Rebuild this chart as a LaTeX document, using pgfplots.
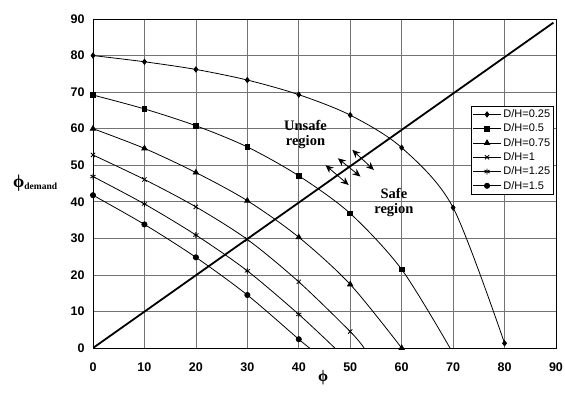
\documentclass[border=0pt]{standalone}
\usepackage{fontspec}
\setmainfont{Liberation Serif}
\setsansfont{Liberation Sans}
\usepackage{pgfplots}
\pgfplotsset{compat=1.18}
\usetikzlibrary{arrows.meta}
\begin{document}
\begin{tikzpicture}
\useasboundingbox (0,0) rectangle (565pt,394pt);
\begin{axis}[
  at={(93pt,46pt)}, anchor=south west,
  scale only axis, width=463pt, height=329pt,
  xmin=0, xmax=90, ymin=0, ymax=90,
  xtick={0,10,...,90}, ytick={0,10,...,90},
  major tick length=0pt,
  grid=major, grid style={black!55, line width=0.7pt},
  axis line style={line width=0.9pt},
  /pgf/number format/assume math mode=true,
  tick label style={font=\sffamily\bfseries\fontsize{12.5}{13}\selectfont},
  xticklabel style={yshift=-11pt},
  yticklabel style={xshift=-5pt},
  every axis plot/.append style={black, line width=0.8pt, smooth, mark size=2.6pt, mark options={solid, fill=black}},
  legend style={at={(rel axis cs:0.816,0.736)}, anchor=north west,
    font=\sffamily\fontsize{11}{11}\selectfont, draw=black, line width=0.7pt,
    inner sep=1.5pt, row sep=0.8pt, fill=white},
  legend cell align=left,
  legend image code/.code={\draw[mark indices={2}] plot coordinates {(0pt,0pt) (14pt,0pt) (28pt,0pt)};},
  clip mode=individual,
]
\addplot[mark=diamond*] coordinates {(0,80)(10,78.3)(20,76.2)(30,73.3)(40,69.3)(50,63.7)(60,54.8)(70,38.4)(80,1.3)};
\addlegendentry{D/H=0.25}
\addplot[mark=square*, mark size=2.4pt, mark indices={1,2,3,4,5,6,7}] coordinates {(0,69.2)(10,65.4)(20,60.8)(30,55.0)(40,47.1)(50,36.8)(60,21.5)(69.4,0)};
\addlegendentry{D/H=0.5}
\addplot[mark=triangle*, mark size=3pt] coordinates {(0,60)(10,54.6)(20,48.0)(30,40.3)(40,30.3)(50,17.4)(60,0)};
\addlegendentry{D/H=0.75}
\addplot[mark=x, mark size=3pt, mark indices={1,2,3,4,5,6}] coordinates {(0,52.8)(10,46.1)(20,38.6)(30,29.7)(40,18.1)(50,4.5)(52.7,0)};
\addlegendentry{D/H=1}
\addplot[mark=asterisk, mark size=3pt, mark indices={1,2,3,4,5}] coordinates {(0,46.9)(10,39.4)(20,30.9)(30,21.1)(40,9.2)(47,0)};
\addlegendentry{D/H=1.25}
\addplot[mark=*, mark size=2.6pt, mark indices={1,2,3,4,5}] coordinates {(0,41.8)(10,33.8)(20,24.8)(30,14.5)(40,2.4)(42.1,0)};
\addlegendentry{D/H=1.5}
\addplot[black, line width=1.8pt, sharp plot, no marks, forget plot] coordinates {(0,0)(89.5,89)};
\draw[{Stealth[length=8pt,width=7pt]}-{Stealth[length=8pt,width=7pt]}, line width=0.8pt] (axis cs:45.2,50.0) -- (axis cs:49.7,44.6);
\draw[{Stealth[length=8pt,width=7pt]}-{Stealth[length=8pt,width=7pt]}, line width=0.8pt] (axis cs:47.6,51.9) -- (axis cs:52.0,46.9);
\draw[{Stealth[length=8pt,width=7pt]}-{Stealth[length=8pt,width=7pt]}, line width=0.8pt] (axis cs:50.4,54.2) -- (axis cs:54.6,48.7);
\node[align=center, font=\bfseries\fontsize{14.5}{15}\selectfont, inner sep=0pt] at (axis cs:41.3,58.5) {Unsafe\\region};
\node[align=center, font=\bfseries\fontsize{14.5}{15}\selectfont, inner sep=0pt] at (axis cs:58.5,39.7) {Safe\\region};
\node[inner sep=0pt] at (rel axis cs:-0.125,0.5) {{\fontsize{18}{18}\selectfont\bfseries ϕ}\raisebox{-1.5pt}{\fontsize{9.5}{10}\selectfont\bfseries demand}};
\node[inner sep=0pt] at (rel axis cs:0.497,-0.091) {\fontsize{16}{16}\selectfont\bfseries ϕ};
\end{axis}
\end{tikzpicture}
\end{document}
